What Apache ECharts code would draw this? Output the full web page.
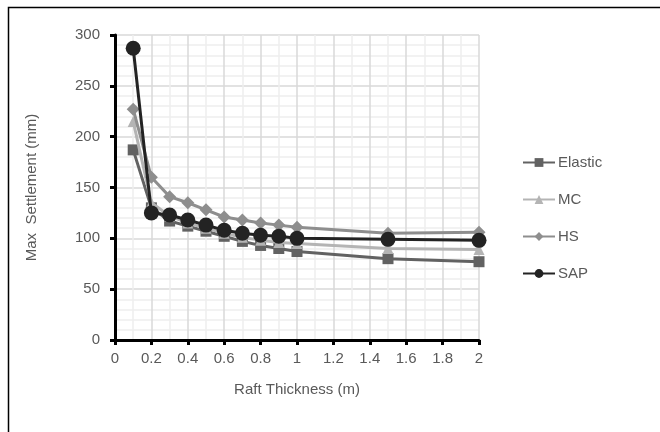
<!DOCTYPE html>
<html>
<head>
<meta charset="utf-8">
<script src="https://cdn.jsdelivr.net/npm/echarts@6/dist/echarts.min.js"></script>
<style>
html,body{margin:0;padding:0;background:#fff;}
#chart{width:660px;height:432px;}
</style>
</head>
<body>
<div id="chart"></div>
<script>
var thickness = [0.1, 0.2, 0.3, 0.4, 0.5, 0.6, 0.7, 0.8, 0.9, 1.0, 1.5, 2.0];
var elastic = [187, 130, 117, 112, 107, 102, 97, 93, 90, 87, 80, 77];
var mc      = [215, 135, 122, 115, 110, 105, 101, 98, 96, 95, 90, 89];
var hs      = [227, 160, 141, 135, 128, 121, 118, 115, 113, 111, 105, 106];
var sap     = [287, 125, 123, 118, 113, 108, 105, 103, 102, 100, 99, 98];
var seriesNames = ['Elastic', 'MC', 'HS', 'SAP'];

function pairs(vals){ return thickness.map(function(x,i){ return [x, vals[i]]; }); }

var FONT = 'Liberation Sans, Arial, sans-serif';
var TXT = '#595959';

function mk(name, vals, color, symbol, size, z){
  return {
    name: name, type: 'line', data: pairs(vals),
    symbol: symbol, symbolSize: size, z: z,
    lineStyle: {color: color, width: 3},
    itemStyle: {color: color, borderWidth: 0},
    emphasis: {disabled: true},
    animation: false
  };
}

var chart = echarts.init(document.getElementById('chart'), null, {renderer: 'canvas'});
chart.setOption({
  animation: false,
  backgroundColor: '#fff',
  graphic: [{
    type: 'rect', left: 6, top: 5, z: 100, silent: true,
    shape: {width: 700, height: 500},
    style: {fill: 'none', stroke: '#000', lineWidth: 1.5}
  }],
  grid: {left: 115, right: 181, top: 35, bottom: 92, containLabel: false},
  legend: {
    orient: 'vertical', left: 522, top: 155, padding: 0,
    itemWidth: 32, itemHeight: 11, itemGap: 22,
    data: seriesNames,
    textStyle: {fontFamily: FONT, fontSize: 15, color: TXT, padding: [0,0,0,-2]}
  },
  xAxis: {
    type: 'value', min: 0, max: 2, interval: 0.2,
    name: 'Raft Thickness (m)', nameLocation: 'middle', nameGap: 42,
    nameTextStyle: {fontFamily: FONT, fontSize: 15, color: TXT},
    axisLine: {onZero: false, lineStyle: {color: '#000', width: 3}},
    axisTick: {show: true, length: 5, lineStyle: {color: '#000', width: 3}},
    axisLabel: {fontFamily: FONT, fontSize: 15, color: TXT, margin: 11,
      formatter: function(v){ return String(Math.round(v*10)/10); }},
    splitLine: {show: true, lineStyle: {color: '#d9d9d9', width: 1.5}},
    minorTick: {show: false, splitNumber: 2},
    minorSplitLine: {show: true, lineStyle: {color: '#eeeeee', width: 1.5}}
  },
  yAxis: {
    type: 'value', min: 0, max: 300, interval: 50,
    name: 'Max  Settlement (mm)', nameLocation: 'middle', nameGap: 76,
    nameTextStyle: {fontFamily: FONT, fontSize: 15, color: TXT},
    axisLine: {show: true, lineStyle: {color: '#000', width: 3}},
    axisTick: {show: true, length: 5, lineStyle: {color: '#000', width: 3}},
    axisLabel: {fontFamily: FONT, fontSize: 15, color: TXT, margin: 15},
    splitLine: {show: true, lineStyle: {color: '#d9d9d9', width: 1.5}},
    minorTick: {show: false, splitNumber: 5},
    minorSplitLine: {show: true, lineStyle: {color: '#eeeeee', width: 1.5}}
  },
  series: [
    mk('Elastic', elastic, '#626262', 'rect', 11, 2),
    mk('MC', mc, '#b4b4b4', 'triangle', 11, 3),
    mk('HS', hs, '#8e8e8e', 'diamond', 13, 4),
    mk('SAP', sap, '#232323', 'circle', 15, 5)
  ]
});
</script>
</body>
</html>
